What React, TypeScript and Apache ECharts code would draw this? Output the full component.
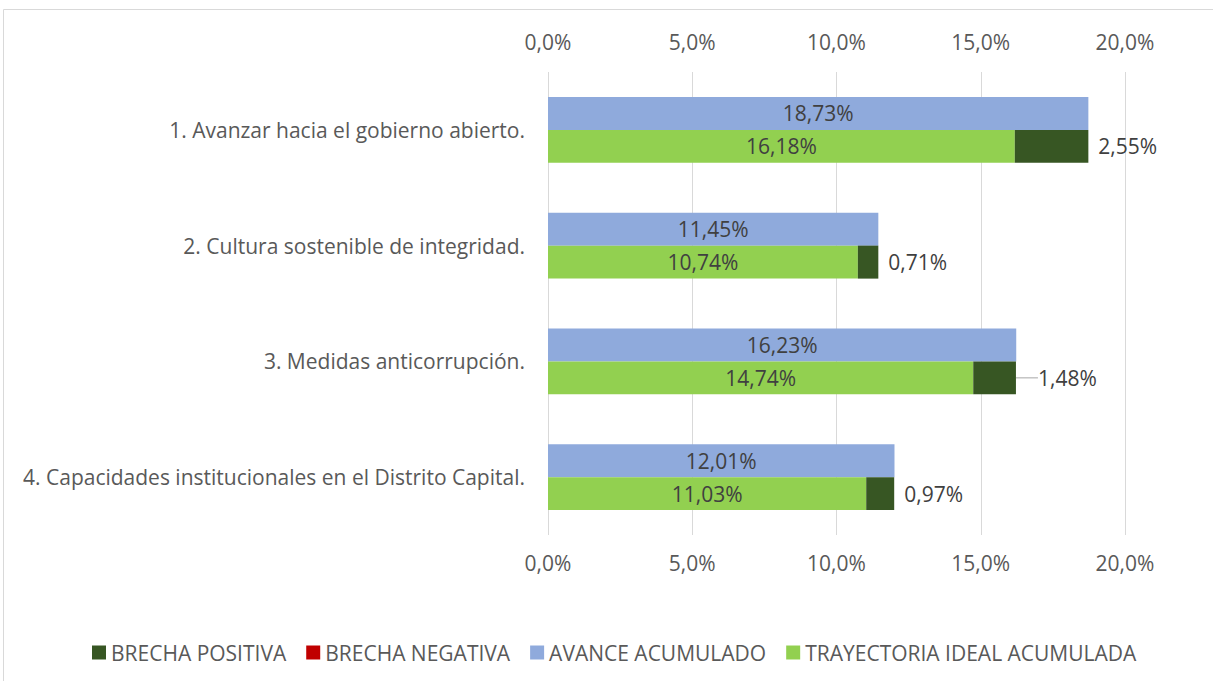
import React, { useEffect, useRef } from "react";
import * as echarts from "echarts";

const categories = [
  "1. Avanzar hacia el gobierno abierto.",
  "2. Cultura sostenible de integridad.",
  "3. Medidas anticorrupción.",
  "4. Capacidades institucionales en el Distrito Capital.",
];
const avanceAcumulado = [18.73, 11.45, 16.23, 12.01];
const trayectoriaIdeal = [16.18, 10.74, 14.74, 11.03];
const brechaPositiva = [2.55, 0.71, 1.48, 0.97];
const brechaNegativa = [0, 0, 0, 0];
const axisTicks = [0, 5, 10, 15, 20];
const movedLabelIndex = 2;

const FONT = "Open Sans";
const FS = 21;
const pct2 = (v: number) => v.toFixed(2).replace(".", ",") + "%";
const pct1 = (v: number) => v.toFixed(1).replace(".", ",") + "%";

export default function App() {
  const ref = useRef<HTMLDivElement>(null);
  useEffect(() => {
    if (!ref.current) return;
    const chart = echarts.init(ref.current, undefined, { renderer: "svg" });
    const labelStyle = { color: "#404040", fontSize: FS, fontFamily: FONT };
    const xAxisBase = {
      type: "value" as const,
      min: axisTicks[0],
      max: axisTicks[axisTicks.length - 1],
      interval: 5,
      axisLine: { show: false },
      axisTick: { show: false },
      axisLabel: { color: "#595959", fontSize: FS, fontFamily: FONT, formatter: (v: number) => pct1(v) },
    };
    chart.setOption({
      animation: false,
      backgroundColor: "#ffffff",
      textStyle: { fontFamily: FONT },
      graphic: [
        {
          type: "rect",
          shape: { x: 3.5, y: 9.5, width: 1230, height: 690 },
          style: { fill: "none", stroke: "#d9d9d9", lineWidth: 1 },
          silent: true,
        },
      ],
      grid: { left: 548, right: 88, top: 72, bottom: 146 },
      xAxis: [
        {
          ...xAxisBase,
          position: "bottom",
          axisLabel: { ...xAxisBase.axisLabel, margin: 17 },
          splitLine: { show: true, lineStyle: { color: "#d9d9d9", width: 1 } },
        },
        {
          ...xAxisBase,
          position: "top",
          axisLabel: { ...xAxisBase.axisLabel, margin: 20 },
          splitLine: { show: false },
        },
      ],
      yAxis: {
        type: "category",
        data: categories,
        inverse: true,
        axisLine: { show: false },
        axisTick: { show: false },
        axisLabel: { color: "#595959", fontSize: FS, fontFamily: FONT, margin: 23 },
      },
      legend: {
        left: 87,
        top: 637,
        itemWidth: 14,
        itemHeight: 14,
        itemGap: 20,
        icon: "rect",
        textStyle: { color: "#595959", fontSize: FS, fontFamily: FONT },
        data: ["BRECHA POSITIVA", "BRECHA NEGATIVA", "AVANCE ACUMULADO", "TRAYECTORIA IDEAL ACUMULADA"],
      },
      series: [
        {
          name: "AVANCE ACUMULADO",
          type: "bar",
          stack: "a",
          data: avanceAcumulado,
          barGap: "0%",
          barCategoryGap: "43%",
          itemStyle: { color: "#8FAADC" },
          label: { show: true, position: "inside", ...labelStyle, formatter: (p: any) => pct2(p.value) },
        },
        {
          name: "TRAYECTORIA IDEAL ACUMULADA",
          type: "bar",
          stack: "b",
          data: trayectoriaIdeal,
          itemStyle: { color: "#92D050" },
          label: { show: true, position: "inside", ...labelStyle, formatter: (p: any) => pct2(p.value) },
        },
        {
          name: "BRECHA POSITIVA",
          type: "bar",
          stack: "b",
          data: brechaPositiva.map((v, i) => ({
            value: v,
            labelLine: { show: i === movedLabelIndex, lineStyle: { color: "#a6a6a6", width: 1 } },
          })),
          itemStyle: { color: "#375623" },
          label: { show: true, position: "right", distance: 10, ...labelStyle, formatter: (p: any) => pct2(p.value) },
          labelLine: { show: false },
          labelLayout: (p: any) => (p.dataIndex === movedLabelIndex ? { dx: 12 } : {}),
        },
        {
          name: "BRECHA NEGATIVA",
          type: "bar",
          stack: "b",
          data: brechaNegativa,
          itemStyle: { color: "#C00000" },
        },
      ],
    });
    return () => chart.dispose();
  }, []);
  return (
    <div
      ref={ref}
      style={{ position: "absolute", left: 0, top: 0, width: 1213, height: 681 }}
    />
  );
}
